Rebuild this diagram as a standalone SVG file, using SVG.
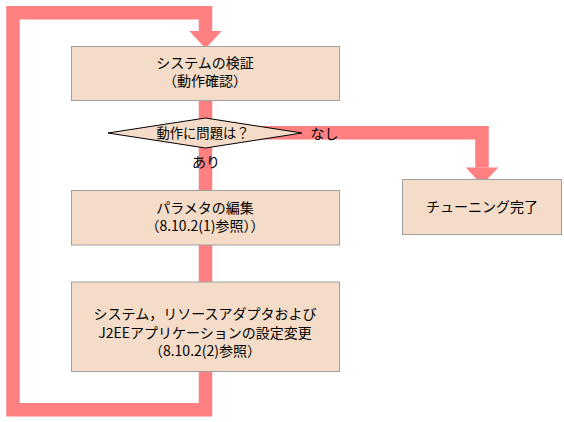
<svg xmlns="http://www.w3.org/2000/svg" width="564" height="422" viewBox="0 0 564 422">
<style>
.ln{fill:none;stroke:#FF8080;stroke-width:13.5;stroke-linejoin:miter;stroke-linecap:butt}
.box{fill:#F4DCC8;stroke:#A0A0A0;stroke-width:1}
.dia{fill:#F4DCC8;stroke:#000000;stroke-width:1}
text{font-family:"Noto Sans CJK JP","Noto Sans CJK SC",sans-serif;font-size:14px;fill:#000000;text-anchor:middle}
</style>
<defs>
<marker id="ah" markerUnits="userSpaceOnUse" orient="auto" refX="0" refY="16.25" markerWidth="18" markerHeight="33" viewBox="0 0 18 32.5" overflow="visible">
<path d="M0,0 L17.5,16.25 L0,32.5 Z" fill="#FF8080"/>
</marker>
</defs>
<rect width="564" height="422" fill="#FFFFFF"/>
<g id="connectors">
<path class="ln" d="M205.5,100 V133"/>
<path class="ln" d="M205.5,133 V190"/>
<path class="ln" d="M205.5,245 V282"/>
<path class="ln" d="M205.5,371 V409.7 H13 V12.75 H205.5 V31" marker-end="url(#ah)"/>
<path class="ln" d="M205.5,132.75 H482 V167.5" marker-end="url(#ah)"/>
<text x="206" y="167">あり</text>
<text x="324.5" y="138.5">なし</text>
</g>
<g id="verify">
<rect class="box" x="71.5" y="46.5" width="268" height="54"/>
<text x="205" y="67.5">システムの検証</text>
<text x="205" y="86">（動作確認）</text>
</g>
<g id="decision">
<polygon class="dia" points="108,133 205.5,118 302,133 205.5,148"/>
<text x="203" y="138.3" style="font-size:13.3px">動作に問題は？</text>
</g>
<g id="edit-params">
<rect class="box" x="71.5" y="190.5" width="268" height="54.5"/>
<text x="205" y="212.5">パラメタの編集</text>
<text x="205" y="231.3">（8.10.2(1)参照））</text>
</g>
<g id="change-settings">
<rect class="box" x="71.5" y="282" width="268" height="89.5"/>
<text x="205" y="319">システム，リソースアダプタおよび</text>
<text x="205" y="337.5">J2EEアプリケーションの設定変更</text>
<text x="205" y="355.7">（8.10.2(2)参照）</text>
</g>
<g id="tuning-done">
<rect class="box" x="402.5" y="179.5" width="159" height="55"/>
<text x="482" y="212">チューニング完了</text>
</g>
</svg>
